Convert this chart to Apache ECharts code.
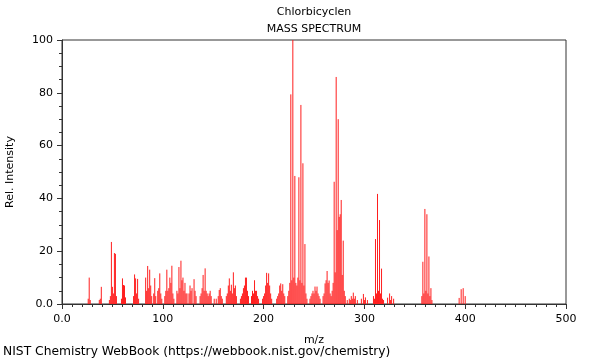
<!DOCTYPE html>
<html><head><meta charset="utf-8">
<script src="https://cdn.jsdelivr.net/npm/echarts@6/dist/echarts.min.js"></script>
<style>html,body{margin:0;padding:0;background:#fff}#c{width:600px;height:360px}</style>
</head><body><div id="c"></div>
<script>
const chartTitle = "Chlorbicyclen";
const chartSubtitle = "MASS SPECTRUM";
const footerText = "NIST Chemistry WebBook (https://webbook.nist.gov/chemistry)";
const xAxisName = "m/z";
const yAxisName = "Rel. Intensity";
const mz = [26,27,28,37,38,39,47,48,49,50,51,52,53,54,59,60,61,62,63,71,72,73,74,75,76,83,84,85,86,87,88,89,91,92,93,95,96,97,98,99,102,103,104,105,106,107,108,109,110,111,114,115,116,117,118,119,120,121,122,123,124,126,127,128,129,131,132,133,137,138,139,140,141,142,143,144,145,146,147,148,151,153,155,156,157,158,159,163,164,165,166,167,168,169,170,171,172,173,177,178,179,180,181,182,183,184,185,188,189,190,191,192,193,194,195,199,200,201,202,203,204,205,206,207,208,213,214,215,216,217,218,219,220,221,224,225,226,227,228,229,230,231,232,233,234,235,236,237,238,239,240,241,242,243,246,247,248,249,250,251,252,253,254,255,256,259,260,261,262,263,264,265,266,267,268,269,270,271,272,273,274,275,276,277,278,279,280,281,283,285,286,287,288,289,290,291,293,297,299,300,301,303,309,310,311,312,313,314,315,316,317,318,319,323,325,326,327,329,357,358,359,360,361,362,363,364,365,366,367,394,396,398,400];
const intensity = [2,10,1.5,1.5,2,6.5,1.5,3,23.5,6.5,4,19.3,19,3,2,9.7,7.2,7,2.5,3,11.2,9.7,4,9.5,2,10,5,14.4,6,13,7,3,4,9.8,3,5,6,11.6,4,2,3,5,13,5,6,10,8,14.5,4,2,5,4,14,6,16.4,9,10,5,8,4,4,4,7,5,6,9.4,5,3,3,4,6,11,5,13.5,5,4,3,4,5,3,2,2,3,5.3,6,3,2,3,4,7,9.7,5,7.3,4,12,6,7,3,2,3,4,6,7,10,10,5,3,3,5,4,9,5,5,3,2,2,3,4,7,11.8,8,11.6,7,4,2,2,3,4,7,7.8,5,7.5,4,3,3,5,8,79.4,9,100,10,48.5,8,7,10,48,9,75.4,8,53.3,7,22.7,4,2,2,3,4,5,4,6.6,5,6.6,4,3,2,3,4,7.8,9,12.5,8,8.9,4,3,5,8,46.3,12,86,28,70,33,34,39.4,11,24,5,3,1.5,2,1.5,3,2,4.3,2,3,1.5,2,3.8,1.5,2.5,1.5,3,2,24.6,4,41.7,5,31.8,4,13.4,2,1.5,2.4,4,1.5,3,2,3,16,4,36,5,34,4,18,3,6,1.5,2.3,5.6,6,3];
const xTicks = [0,100,200,300,400,500];
const yTicks = [0,20,40,60,80,100];

const peaks = mz.map((m,i)=>[m,intensity[i]]);
const chart = echarts.init(document.getElementById('c'), null, {renderer:'canvas'});
const fmt = v => v === 0 ? '0.0' : String(v);
const font = 'DejaVu Sans';
chart.setOption({
  animation:false,
  title:[
    {text:chartTitle,left:314,top:7,padding:0,textAlign:'center',textStyle:{fontFamily:font,fontSize:11,fontWeight:'normal',color:'#000'}},
    {text:chartSubtitle,left:314,top:24,padding:0,textAlign:'center',textStyle:{fontFamily:font,fontSize:11,fontWeight:'normal',color:'#000'}},
    {text:footerText,left:3,top:346,padding:0,textStyle:{fontFamily:font,fontSize:12.3,fontWeight:'normal',color:'#000'}}
  ],
  grid:{left:62,right:34,top:40,bottom:56,show:true,borderColor:'#333',borderWidth:1,backgroundColor:'transparent',outerBoundsMode:'none',containLabel:false},
  xAxis:{type:'value',min:xTicks[0],max:xTicks[xTicks.length-1],interval:xTicks[1]-xTicks[0],
    name:xAxisName,nameLocation:'middle',nameGap:31,nameTextStyle:{fontFamily:font,fontSize:11,color:'#000'},
    axisLine:{show:true,lineStyle:{color:'#333'}},axisTick:{show:true,length:5,lineStyle:{color:'#333'}},
    minorTick:{show:true,splitNumber:10,length:3,lineStyle:{color:'#333'}},
    axisLabel:{formatter:fmt,fontFamily:font,fontSize:11,color:'#000',margin:10},splitLine:{show:false}},
  yAxis:{type:'value',min:yTicks[0],max:yTicks[yTicks.length-1],interval:yTicks[1]-yTicks[0],
    name:yAxisName,nameLocation:'middle',nameGap:46,nameTextStyle:{fontFamily:font,fontSize:11,color:'#000'},
    axisLine:{show:true,lineStyle:{color:'#333'}},axisTick:{show:true,length:5,lineStyle:{color:'#333'}},
    minorTick:{show:true,splitNumber:4,length:3,lineStyle:{color:'#333'}},
    axisLabel:{formatter:fmt,fontFamily:font,fontSize:11,color:'#000',margin:9},splitLine:{show:false}},
  series:[{
    type:'custom',
    data:peaks,
    clip:true,
    renderItem:function(params,api){
      const p0 = api.coord([api.value(0),0]);
      const p1 = api.coord([api.value(0),api.value(1)]);
      return {type:'line',shape:{x1:p0[0],y1:p0[1],x2:p1[0],y2:p1[1]},style:{stroke:'#ff1e1e',lineWidth:1}};
    }
  }]
});
</script></body></html>
